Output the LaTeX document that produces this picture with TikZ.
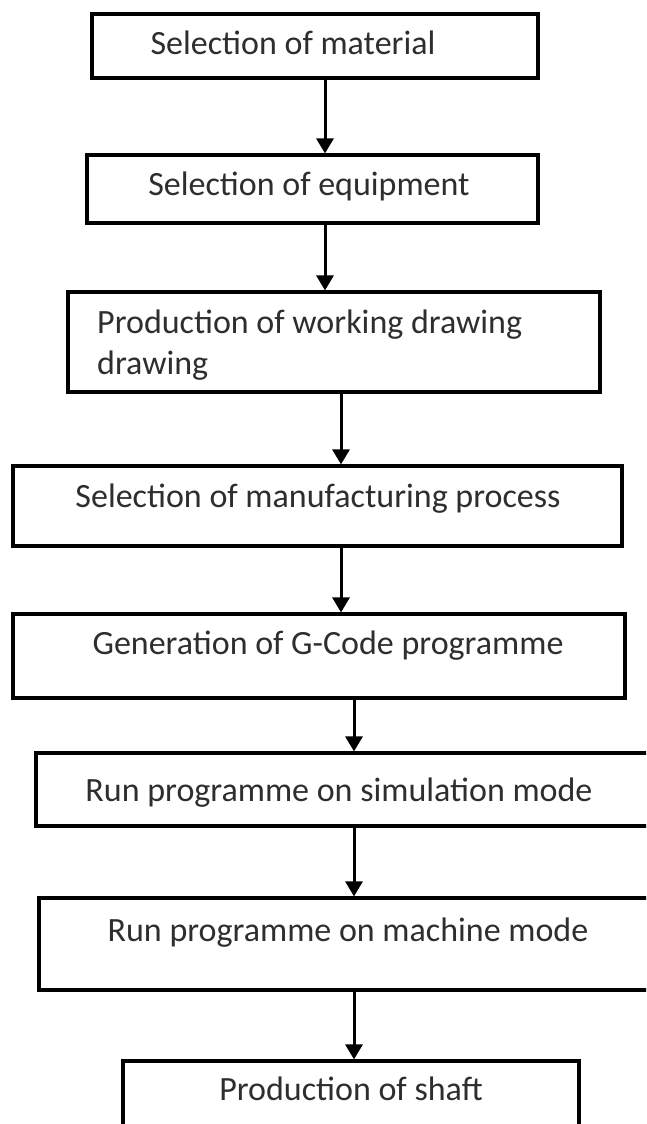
\documentclass[tikz,border=0pt]{standalone}
\usepackage{fontspec}
\setmainfont{Carlito}
\usetikzlibrary{arrows.meta}
\begin{document}
\begin{tikzpicture}[x=1pt,y=-1pt,
  box/.style={draw=black, line width=3.2pt, rectangle, inner sep=0pt},
  lbl/.style={font=\fontsize{34}{42}\selectfont, text=black!82, inner sep=0pt, anchor=base},
  arr/.style={line width=3pt, -{Triangle[length=15pt,width=17pt]}}]
\useasboundingbox (0,0) rectangle (646,1124);
\clip (0,0) rectangle (646,1124);
\fill[white] (0,0) rectangle (646,1124);

\node[box, minimum width=446pt, minimum height=64pt] (b1) at (315,46) {};
\node[box, minimum width=451pt, minimum height=68pt] (b2) at (312.5,189) {};
\node[box, minimum width=532pt, minimum height=100pt] (b3) at (334,342) {};
\node[box, minimum width=609pt, minimum height=80pt] (b4) at (317.5,506) {};
\node[box, minimum width=612pt, minimum height=84pt] (b5) at (319,656) {};
\node[box, minimum width=624pt, minimum height=73pt] (b6) at (348,789.5) {};
\node[box, minimum width=621pt, minimum height=92pt] (b7) at (349.5,944) {};
\node[box, minimum width=456pt, minimum height=79pt] (b8) at (351,1100.5) {};

\node[lbl] (t1) at (293,55) {Selection of material};
\node[lbl] (t2) at (309,195) {Selection of equipment};
\node[lbl, anchor=base west] (t3a) at (97,333) {Production of working drawing};
\node[lbl, anchor=base west] (t3b) at (97,374) {drawing};
\node[lbl] (t4) at (318,507) {Selection of manufacturing process};
\node[lbl] (t5) at (328,654) {Generation of G-Code programme};
\node[lbl] (t6) at (339,801) {Run programme on simulation mode};
\node[lbl] (t7) at (348,941) {Run programme on machine mode};
\node[lbl] (t8) at (351,1100) {Production of shaft};

\draw[arr] ([xshift=10pt]b1.south) -- ([xshift=12.5pt]b2.north);
\draw[arr] ([xshift=12.5pt]b2.south) -- ([xshift=-9pt]b3.north);
\draw[arr] ([xshift=7pt]b3.south) -- ([xshift=23.5pt]b4.north);
\draw[arr] ([xshift=23.5pt]b4.south) -- ([xshift=22pt]b5.north);
\draw[arr] ([xshift=35pt]b5.south) -- ([xshift=6pt]b6.north);
\draw[arr] ([xshift=6pt]b6.south) -- ([xshift=4.5pt]b7.north);
\draw[arr] ([xshift=4.5pt]b7.south) -- ([xshift=3pt]b8.north);
\end{tikzpicture}
\end{document}
